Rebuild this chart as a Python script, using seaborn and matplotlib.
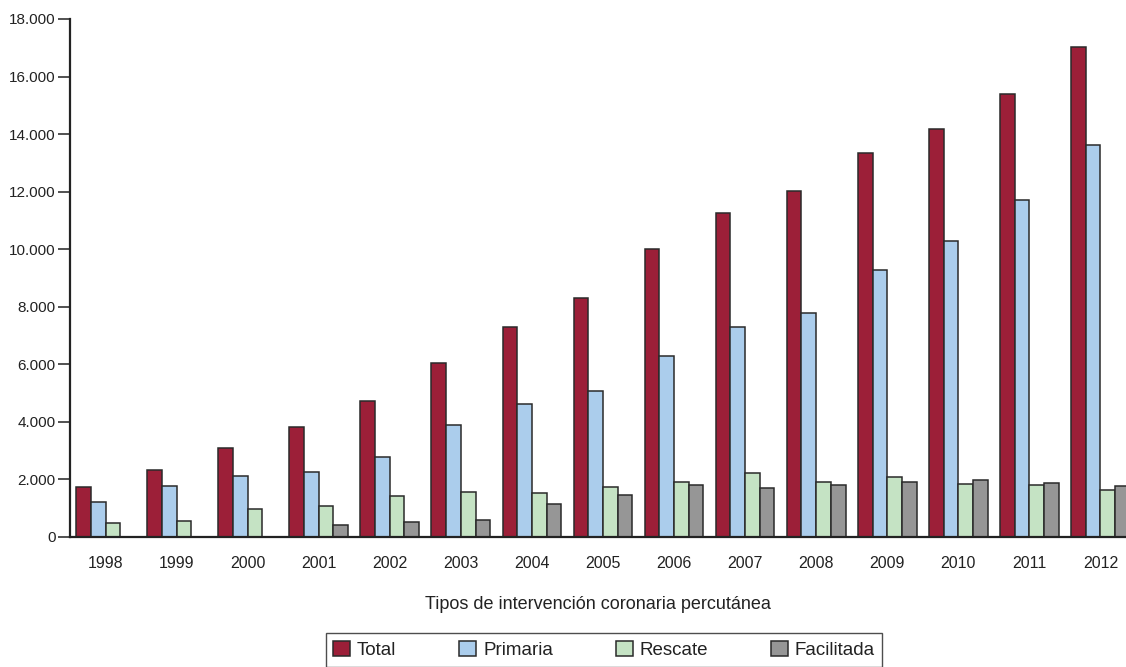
import numpy as np
import pandas as pd
import matplotlib
matplotlib.use("Agg")
import matplotlib.pyplot as plt
from matplotlib.ticker import FuncFormatter, MultipleLocator
import seaborn as sns

years = ["1998", "1999", "2000", "2001", "2002", "2003", "2004", "2005",
         "2006", "2007", "2008", "2009", "2010", "2011", "2012"]
total = [1740, 2330, 3106, 3822, 4726, 6046, 7287, 8300, 10020, 11270,
         12008, 13346, 14170, 15406, 17040]
primaria = [1230, 1770, 2133, 2272, 2793, 3880, 4610, 5073, 6280, 7297,
            7776, 9267, 10285, 11700, 13631]
rescate = [487, 556, 986, 1090, 1425, 1577, 1518, 1750, 1924, 2224,
           1894, 2102, 1831, 1793, 1626]
facilitada = [0, 0, 0, 430, 510, 592, 1160, 1460, 1808, 1692,
              1793, 1894, 1998, 1870, 1755]
series_names = ["Total", "Primaria", "Rescate", "Facilitada"]
colors = ["#9C1F38", "#ABCDEC", "#C5E3C4", "#969696"]
xlabel = "Tipos de intervención coronaria percutánea"

df = pd.DataFrame({
    "year": years * 4,
    "tipo": np.repeat(series_names, len(years)),
    "value": total + primaria + rescate + facilitada,
})

sns.set_style("ticks")
plt.rcParams["font.family"] = ["Liberation Sans", "DejaVu Sans"]
text_color = "#222222"

fig = plt.figure(figsize=(11.26, 6.67), dpi=100)
ax = fig.add_axes([70 / 1126, 1 - 537 / 667, 1 - 70 / 1126, (537 - 19) / 667])

sns.barplot(data=df, x="year", y="value", hue="tipo", order=years,
            hue_order=series_names, palette=colors, saturation=1, width=0.827,
            edgecolor="#2a2a2a", linewidth=1.1, ax=ax, legend=True)

ax.set_xlim(-0.5, 14.36)
ax.set_ylim(0, 18000)
ax.yaxis.set_major_locator(MultipleLocator(2000))
ax.yaxis.set_major_formatter(FuncFormatter(lambda v, p: f"{int(v):,}".replace(",", ".")))

for s in ["top", "right"]:
    ax.spines[s].set_visible(False)
for s in ["left", "bottom"]:
    ax.spines[s].set_linewidth(1.6)
    ax.spines[s].set_color("#222222")

ax.tick_params(axis="y", length=9, width=1.1, color="#222222", labelsize=11,
               labelcolor=text_color, pad=1.5)
ax.tick_params(axis="x", length=0, labelsize=11.5, labelcolor=text_color, pad=14)
ax.set_ylabel("")
ax.set_xlabel(xlabel, fontsize=13, color=text_color, labelpad=18)

handles, labels = ax.get_legend_handles_labels()
ax.get_legend().remove()
leg = fig.legend(handles, labels, loc="center", bbox_to_anchor=(604 / 1126, 1 - 650 / 667),
                 ncol=4, frameon=True, fancybox=False, fontsize=13.5,
                 handlelength=0.9, handleheight=0.9, handletextpad=0.37,
                 columnspacing=3.35, borderpad=0.4, borderaxespad=0,
                 labelcolor=text_color)
leg.get_frame().set_edgecolor("#222222")
leg.get_frame().set_linewidth(1.0)

fig.savefig("out.png", dpi=100)
